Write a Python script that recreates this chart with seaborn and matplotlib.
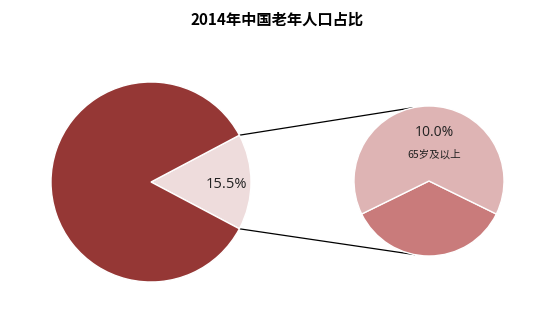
import numpy as np
import matplotlib
matplotlib.use("Agg")
import matplotlib.pyplot as plt
import seaborn as sns

# data
title = "2014年中国老年人口占比"
main_labels = ["其他", "老年人口"]
main_values = [84.5, 15.5]
sub_labels = ["65岁及以上", "60-64岁"]
sub_values = [10.0, 5.5]

main_colors = ["#953735", "#EEDCDC"]
sub_colors = ["#DEB4B4", "#C97B7B"]

sns.set_theme(style="white")
plt.rcParams['font.family'] = ['Noto Sans CJK SC', 'DejaVu Sans']

W, H = 554, 323
fig = plt.figure(figsize=(W / 100, H / 100), dpi=100)
ax = fig.add_axes([0, 0, 1, 1])

# main pie
c1 = (151, H - 182)
r1 = 100
old_share = main_values[1] / sum(main_values) * 360
ax.pie([main_values[1], main_values[0]], colors=[main_colors[1], main_colors[0]],
       startangle=-old_share / 2, counterclock=True, center=c1, radius=r1,
       wedgeprops=dict(edgecolor="white", linewidth=1), frame=True)

# sub pie
c2 = (429, H - 181)
r2 = 75
small_share = sub_values[1] / sum(sub_values) * 360
ax.pie([sub_values[1], sub_values[0]], colors=[sub_colors[1], sub_colors[0]],
       startangle=270 - small_share / 2, counterclock=True, center=c2, radius=r2,
       wedgeprops=dict(edgecolor="white", linewidth=1), frame=True)
ax.set_xlim(0, W)
ax.set_ylim(0, H)
ax.set_aspect("equal")
ax.axis("off")

# connectors
a = np.deg2rad(old_share / 2)
p_top = (c1[0] + r1 * np.cos(a), c1[1] + r1 * np.sin(a))
p_bot = (c1[0] + r1 * np.cos(-a), c1[1] + r1 * np.sin(-a))
q_top = (c2[0] + r2 * np.cos(np.deg2rad(102)), c2[1] + r2 * np.sin(np.deg2rad(102)))
q_bot = (c2[0] + r2 * np.cos(np.deg2rad(259)), c2[1] + r2 * np.sin(np.deg2rad(259)))
ax.plot([p_top[0], q_top[0]], [p_top[1], q_top[1]], color="black", lw=0.9, zorder=0)
ax.plot([p_bot[0], q_bot[0]], [p_bot[1], q_bot[1]], color="black", lw=0.9, zorder=0)

# labels
ax.text(226, H - 184, f"{main_values[1]:.1f}%", ha="center", va="center",
        fontsize=10.5, color="#222222", family=['Open Sans', 'DejaVu Sans'])
ax.text(434, H - 132, f"{sub_values[0]:.1f}%", ha="center", va="center",
        fontsize=10, color="#222222", family=['Open Sans', 'DejaVu Sans'])
ax.text(434, H - 155, sub_labels[0], ha="center", va="center",
        fontsize=7.6, color="#222222")

fig.text(0.5, 1 - 20 / H, title, ha="center", va="center", fontsize=11,
         fontweight="bold", color="black")

fig.savefig("out.png", dpi=100, facecolor="white")
